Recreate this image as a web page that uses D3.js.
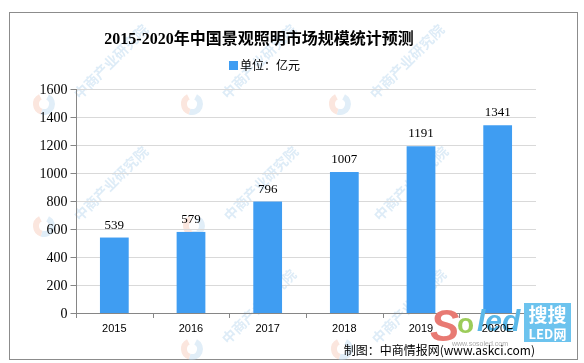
<!DOCTYPE html>
<html>
<head>
<meta charset="utf-8">
<title>2015-2020年中国景观照明市场规模统计预测</title>
<script src="https://cdn.jsdelivr.net/npm/d3@7"></script>
<style>
    body {margin: 0; background: white;}
    .axis line, .axis path {stroke: #868686;}
    .grid line {stroke: #d9d9d9;}
</style>
</head>
<body>
<svg width="584" height="363"></svg>
<script>
var years = ["2015", "2016", "2017", "2018", "2019", "2020E"];
var values = [539, 579, 796, 1007, 1191, 1341];
var yTicks = [0, 200, 400, 600, 800, 1000, 1200, 1400, 1600];

var svg = d3.select("svg");
var xs = d3.scaleBand().domain(years).range([76, 536]).paddingInner(0.625).paddingOuter(0.3125);
var ys = d3.scaleLinear().domain([0, 1600]).range([313, 89]);

// outer frame
svg.append("rect")
    .attr("x", 9.5).attr("y", 12.5)
    .attr("width", 568).attr("height", 347)
    .attr("fill", "white").attr("stroke", "#8c8c8c");

// watermarks (faint)
var wm = svg.append("g").attr("opacity", 0.45);
var spots = [[80, 100], [228, 100], [376, 100], [80, 222], [230, 222], [380, 222], [228, 345], [378, 345]];
spots.forEach(function(p) {
    wm.append("text")
        .attr("transform", "translate(" + p[0] + "," + p[1] + ") rotate(-45)")
        .attr("font-family", "Noto Sans CJK SC")
        .attr("font-weight", "bold")
        .attr("font-size", 14)
        .attr("fill", "#b5d5ee")
        .text("中商产业研究院");
    var g = wm.append("g").attr("transform", "translate(" + (p[0] - 36) + "," + (p[1] + 4) + ")");
    g.append("path").attr("d", d3.arc()({innerRadius: 5, outerRadius: 11, startAngle: Math.PI * 0.15, endAngle: Math.PI * 1.1}))
        .attr("fill", "#bcd9ef");
    g.append("path").attr("d", d3.arc()({innerRadius: 5, outerRadius: 11, startAngle: Math.PI * 1.1, endAngle: Math.PI * 1.85}))
        .attr("fill", "#f6c7b5");
});

// gridlines
svg.append("g").attr("class", "grid")
    .selectAll("line").data(yTicks.slice(1)).enter()
    .append("line")
        .attr("x1", 76).attr("x2", 536)
        .attr("y1", function(d) { return Math.round(ys(d)) + 0.5; })
        .attr("y2", function(d) { return Math.round(ys(d)) + 0.5; });

// bars
svg.append("g").selectAll("rect").data(values).enter()
    .append("rect")
        .attr("x", function(d, i) { return xs(years[i]); })
        .attr("y", function(d) { return ys(d); })
        .attr("width", xs.bandwidth())
        .attr("height", function(d) { return ys(0) - ys(d); })
        .attr("fill", "#3f9df2");

// value labels
svg.append("g").selectAll("text").data(values).enter()
    .append("text")
        .attr("x", function(d, i) { return xs(years[i]) + xs.bandwidth() / 2; })
        .attr("y", function(d) { return ys(d) - 9; })
        .attr("text-anchor", "middle")
        .attr("font-family", "Liberation Serif")
        .attr("font-size", 13)
        .text(function(d) { return d; });

// y axis
svg.append("g").attr("class", "axis")
    .attr("transform", "translate(76.5,0)")
    .call(d3.axisLeft(ys).tickValues(yTicks).tickFormat(d3.format("d")).tickSize(6).tickPadding(3))
    .call(function(g) {
        g.select(".domain").attr("d", "M0," + ys(1600) + "V" + (ys(0) + 4));
        g.selectAll("text").attr("font-family", "Liberation Serif").attr("font-size", 14).attr("fill", "#000");
    });

// x axis
var step = xs.step();
var bounds = d3.range(years.length + 1).map(function(i) { return 76 + i * step; });
var xa = svg.append("g").attr("class", "axis");
xa.append("line").attr("x1", 76).attr("x2", 536).attr("y1", 313.5).attr("y2", 313.5);
xa.selectAll(".tk").data(bounds).enter()
    .append("line").attr("class", "tk")
        .attr("x1", function(d) { return Math.round(d) + 0.5; })
        .attr("x2", function(d) { return Math.round(d) + 0.5; })
        .attr("y1", 313).attr("y2", 318);

// soled logo
var logo = svg.append("g");
logo.append("text").attr("x", 430).attr("y", 341)
    .attr("font-family", "Liberation Sans").attr("font-style", "italic").attr("font-weight", "bold")
    .attr("font-size", 44).attr("fill", "#e87a73").text("S");
logo.append("text").attr("x", 457).attr("y", 333)
    .attr("font-family", "Liberation Sans").attr("font-weight", "bold")
    .attr("font-size", 28).attr("fill", "#9ccc5a").text("o");
logo.append("text").attr("x", 477).attr("y", 331)
    .attr("font-family", "Liberation Sans").attr("font-style", "italic").attr("font-weight", "bold")
    .attr("font-size", 30).attr("fill", "#5ab8e8").text("led");
logo.append("text").attr("x", 452).attr("y", 346)
    .attr("font-family", "Liberation Sans").attr("font-size", 7).attr("fill", "#aaaaaa").text("www.sosoled.com");
logo.append("rect").attr("x", 524).attr("y", 303).attr("width", 47).attr("height", 39).attr("fill", "#6cc3ee");
logo.append("text").attr("x", 547.5).attr("y", 322).attr("text-anchor", "middle")
    .attr("font-family", "Noto Sans CJK SC").attr("font-weight", "bold")
    .attr("font-size", 19).attr("fill", "white").text("搜搜");
logo.append("text").attr("x", 547.5).attr("y", 339).attr("text-anchor", "middle")
    .attr("font-family", "Noto Sans CJK SC").attr("font-weight", "bold")
    .attr("font-size", 13).attr("fill", "white").text("LED网");

// category labels
svg.append("g").selectAll("text").data(years).enter()
    .append("text")
        .attr("x", function(d) { return xs(d) + xs.bandwidth() / 2; })
        .attr("y", 332)
        .attr("text-anchor", "middle")
        .attr("font-family", "Liberation Sans")
        .attr("font-size", 11)
        .text(function(d) { return d; });

// title
svg.append("text")
    .attr("x", 259).attr("y", 44)
    .attr("text-anchor", "middle")
    .attr("font-family", "Liberation Serif, Noto Sans CJK SC")
    .attr("font-weight", "bold")
    .attr("font-size", 16)
    .text("2015-2020年中国景观照明市场规模统计预测");

// legend
svg.append("rect").attr("x", 229).attr("y", 61).attr("width", 9).attr("height", 9).attr("fill", "#3f9df2");
svg.append("text")
    .attr("x", 240).attr("y", 70)
    .attr("font-family", "Noto Sans CJK SC")
    .attr("font-size", 12)
    .text("单位：亿元");

// source
svg.append("text")
    .attr("x", 535).attr("y", 355)
    .attr("text-anchor", "end")
    .attr("font-family", "Noto Sans CJK SC, Liberation Sans")
    .attr("font-size", 12)
    .text("制图：中商情报网(www.askci.com)");
</script>
</body>
</html>
